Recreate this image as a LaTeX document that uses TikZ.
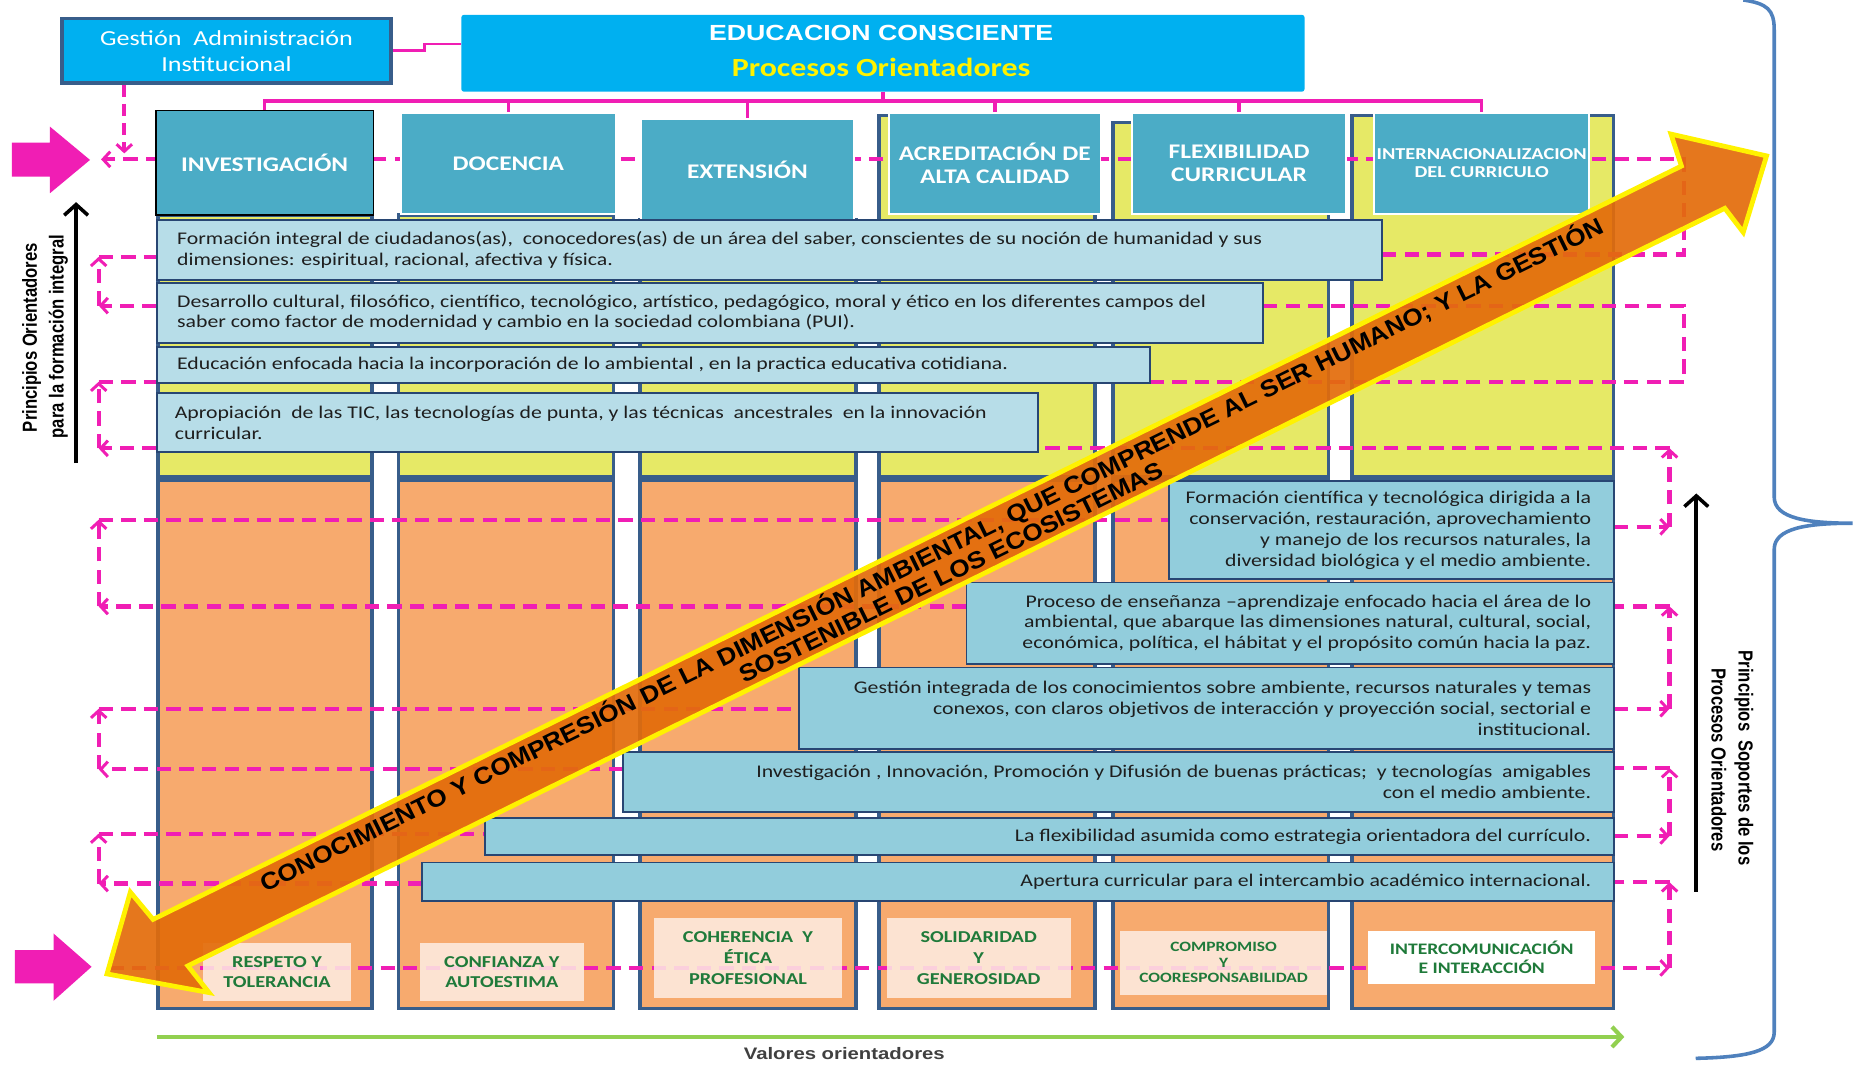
\documentclass[tikz,border=0pt]{standalone}
\usepackage{fontspec}
\setmainfont{Carlito}[FakeStretch=1.22]
\newfontfamily\arialS{Liberation Sans}[FakeStretch=1.22]
\newfontfamily\arialN{Liberation Sans}
\newfontfamily\arialA{Liberation Sans}[FakeStretch=1.1]
\usetikzlibrary{arrows.meta}
\newcommand\lblfont{\arialN\bfseries\fontsize{14}{16}\selectfont}
\definecolor{mag}{RGB}{240,30,180}
\definecolor{titleC}{RGB}{0,176,240}
\definecolor{hdrC}{RGB}{75,172,198}
\definecolor{frameC}{RGB}{56,93,138}
\definecolor{yelC}{RGB}{230,233,102}
\definecolor{orgC}{RGB}{247,170,110}
\definecolor{upC}{RGB}{183,221,232}
\definecolor{loC}{RGB}{146,205,220}
\definecolor{boxline}{RGB}{40,70,115}
\definecolor{txtC}{RGB}{30,30,30}
\definecolor{valC}{RGB}{253,238,228}
\definecolor{valT}{RGB}{31,122,58}
\definecolor{arrOr}{RGB}{227,108,10}
\definecolor{greenC}{RGB}{146,208,80}
\definecolor{braceC}{RGB}{79,129,189}
\definecolor{grayT}{RGB}{64,64,64}
\tikzset{
  hdr/.style={draw=white, line width=1.5pt, fill=hdrC, text=white, font=\fontsize{17.5}{19}\selectfont\bfseries, align=center, inner sep=0pt},
  upb/.style={draw=boxline, line width=1.5pt, fill=upC, inner sep=0pt},
  lob/.style={draw=boxline, line width=1.5pt, fill=loC, inner sep=0pt},
  btxt/.style={font=\fontsize{15}{17.5}\selectfont, text=txtC, inner sep=0pt},
  val/.style={fill=valC, fill opacity=0.85, text opacity=1, text=valT, font=\fontsize{14}{16.5}\selectfont\bfseries, align=center, inner sep=0pt},
  dsh/.style={draw=mag, line width=3.5pt, dash pattern=on 12pt off 7pt},
  tipm/.style={-{Straight Barb[length=6pt,width=13pt,line width=2.5pt]}},
  colY/.style={fill=yelC, draw=frameC, line width=3pt},
  colO/.style={fill=orgC, draw=frameC, line width=3pt},
  brk/.style={draw=mag, line width=3pt},
  blk/.style={draw=black, line width=3.2pt, -{Straight Barb[length=9pt,width=20pt,line width=3pt]}},
}
\begin{document}
\begin{tikzpicture}[x=1pt,y=-1pt]
\useasboundingbox (0,0) rectangle (1565,895.6);
\fill[white] (0,0) rectangle (1565,895.6);

% columns
\foreach \xl/\xr/\yt in {133/313/181, 335/516/181, 538/720/185, 739/921/97, 936/1117/103, 1137/1357/97}{
  \draw[colY] (\xl,\yt) rectangle (\xr,401);
  \draw[colO] (\xl,404) rectangle (\xr,848);
}

% coordinates for dashed connectors
\coordinate (topL) at (85,134);
\coordinate (topR) at (1416,134);
\coordinate (rA) at (1416,214);
\coordinate (l1a) at (83,216);  \coordinate (l1b) at (83,257);
\coordinate (r2a) at (1416,257); \coordinate (r2b) at (1416,321);
\coordinate (l2a) at (83,321);  \coordinate (l2b) at (83,377);
\coordinate (r3a) at (1404,377); \coordinate (r3b) at (1404,443);
\coordinate (l3a) at (83,437);  \coordinate (l3b) at (83,510);
\coordinate (r4a) at (1404,510); \coordinate (r4b) at (1404,596);
\coordinate (l4a) at (83,596);  \coordinate (l4b) at (83,647);
\coordinate (r5a) at (1404,646); \coordinate (r5b) at (1404,703);
\coordinate (l5a) at (83,701);  \coordinate (l5b) at (83,743);
\coordinate (r6a) at (1404,742); \coordinate (r6b) at (1404,814);
\coordinate (botL) at (92,814);

% text boxes (placed first as invisible references)
\path (647,210) node[minimum width=1030pt, minimum height=50pt, inner sep=0pt] (a) {};
\path (597,263) node[minimum width=930pt, minimum height=50pt, inner sep=0pt] (b) {};
\path (549.5,307) node[minimum width=835pt, minimum height=30pt, inner sep=0pt] (c) {};
\path (502.5,355.5) node[minimum width=741pt, minimum height=49pt, inner sep=0pt] (d) {};
\path (1170,446) node[minimum width=374pt, minimum height=82pt, inner sep=0pt] (e) {};
\path (1085,524) node[minimum width=544pt, minimum height=68pt, inner sep=0pt] (f) {};
\path (1014.5,595.5) node[minimum width=685pt, minimum height=68pt, inner sep=0pt] (g) {};
\path (940.5,657.5) node[minimum width=833pt, minimum height=50pt, inner sep=0pt] (h) {};
\path (882.5,703.5) node[minimum width=949pt, minimum height=31pt, inner sep=0pt] (i) {};
\path (856,741.5) node[minimum width=1002pt, minimum height=32pt, inner sep=0pt] (j) {};

% dashed connectors
\draw[dsh, tipm] (a.east |- rA) -- (rA) -- (topR) -- (topL);
\draw[dsh, tipm] (b.west |- l1b) -- (l1b);
\draw[dsh, tipm] (l1b) -- (l1a);
\draw[dsh] (l1a) -- (a.west |- l1a);
\draw[dsh] (b.east |- r2a) -- (r2a) -- (r2b) -- (c.east |- r2b);
\draw[dsh, tipm] (d.west |- l2b) -- (l2b);
\draw[dsh, tipm] (l2b) -- (l2a);
\draw[dsh] (l2a) -- (c.west |- l2a);
\draw[dsh, tipm] (e.east |- r3b) -- (r3b);
\draw[dsh, tipm] (r3b) -- (r3a);
\draw[dsh] (r3a) -- (d.east |- r3a);
\draw[dsh, tipm] (f.west |- l3b) -- (l3b);
\draw[dsh, tipm] (l3b) -- (l3a);
\draw[dsh] (l3a) -- (e.west |- l3a);
\draw[dsh, tipm] (g.east |- r4b) -- (r4b);
\draw[dsh, tipm] (r4b) -- (r4a);
\draw[dsh] (r4a) -- (f.east |- r4a);
\draw[dsh, tipm] (h.west |- l4b) -- (l4b);
\draw[dsh, tipm] (l4b) -- (l4a);
\draw[dsh] (l4a) -- (g.west |- l4a);
\draw[dsh, tipm] (i.east |- r5b) -- (r5b);
\draw[dsh, tipm] (r5b) -- (r5a);
\draw[dsh] (r5a) -- (h.east |- r5a);
\draw[dsh, tipm] (j.west |- l5b) -- (l5b);
\draw[dsh, tipm] (l5b) -- (l5a);
\draw[dsh] (l5a) -- (i.west |- l5a);
\draw[dsh, tipm] (botL) -- (r6b);
\draw[dsh, tipm] (r6b) -- (r6a);
\draw[dsh] (r6a) -- (j.east |- r6a);

% headers
\node[hdr, draw=black, minimum width=183pt, minimum height=88pt] (inv) at (222.5,137) {INVESTIGACIÓN};
\node[hdr, minimum width=181pt, minimum height=85pt] (doc) at (427.5,137.5) {DOCENCIA};
\node[hdr, minimum width=179pt, minimum height=85pt] (ext) at (628.5,142.5) {EXTENSIÓN};
\node[hdr, minimum width=178pt, minimum height=85pt] (acr) at (836.5,137.5) {ACREDITACIÓN DE\\ALTA CALIDAD};
\node[hdr, minimum width=180pt, minimum height=85pt] (flx) at (1042,137.5) {FLEXIBILIDAD\\CURRICULAR};
\node[hdr, minimum width=181pt, minimum height=85pt, font=\fontsize{14}{15}\selectfont\bfseries] (intl) at (1246,137.5) {INTERNACIONALIZACION\\DEL CURRICULO};

% visible text boxes
\draw[upb] (a.north west) rectangle (a.south east);
\draw[upb] (b.north west) rectangle (b.south east);
\draw[upb] (c.north west) rectangle (c.south east);
\draw[upb] (d.north west) rectangle (d.south east);
\draw[lob] (e.north west) rectangle (e.south east);
\draw[lob] (f.north west) rectangle (f.south east);
\draw[lob] (g.north west) rectangle (g.south east);
\draw[lob] (h.north west) rectangle (h.south east);
\draw[lob] (i.north west) rectangle (i.south east);
\draw[lob] (j.north west) rectangle (j.south east);

\node[btxt, anchor=west, align=left] (ta) at ([xshift=17pt]a.west) {Formación integral de ciudadanos(as),\ \ conocedores(as) de un área del saber, conscientes de su noción de humanidad y sus\\dimensiones: espiritual, racional, afectiva y física.};
\node[btxt, anchor=west, align=left] (tb) at ([xshift=17pt]b.west) {Desarrollo cultural, filosófico, científico, tecnológico, artístico, pedagógico, moral y ético en los diferentes campos del\\saber como factor de modernidad y cambio en la sociedad colombiana (PUI).};
\node[btxt, anchor=west, align=left] (tc) at ([xshift=17pt]c.west) {Educación enfocada hacia la incorporación de lo ambiental , en la practica educativa cotidiana.};
\node[btxt, anchor=west, align=left] (td) at ([xshift=15pt]d.west) {Apropiación\ \ de las TIC, las tecnologías de punta, y las técnicas\ \ ancestrales\ \ en la innovación\\curricular.};
\node[btxt, anchor=east, align=right] (te) at ([xshift=-19pt]e.east) {Formación científica y tecnológica dirigida a la\\conservación, restauración, aprovechamiento\\y manejo de los recursos naturales, la\\diversidad biológica y el medio ambiente.};
\node[btxt, anchor=east, align=right] (tf) at ([xshift=-19pt]f.east) {Proceso de enseñanza –aprendizaje enfocado hacia el área de lo\\ambiental, que abarque las dimensiones natural, cultural, social,\\económica, política, el hábitat y el propósito común hacia la paz.};
\node[btxt, anchor=east, align=right] (tg) at ([xshift=-19pt]g.east) {Gestión integrada de los conocimientos sobre ambiente, recursos naturales y temas\\conexos, con claros objetivos de interacción y proyección social, sectorial e\\institucional.};
\node[btxt, anchor=east, align=right] (th) at ([xshift=-19pt]h.east) {Investigación , Innovación, Promoción y Difusión de buenas prácticas;\ \ y tecnologías\ \ amigables\\con el medio ambiente.};
\node[btxt, anchor=east, align=right] (ti) at ([xshift=-19pt]i.east) {La flexibilidad asumida como estrategia orientadora del currículo.};
\node[btxt, anchor=east, align=right] (tj) at ([xshift=-19pt]j.east) {Apertura curricular para el intercambio académico internacional.};

% value boxes
\node[val, minimum width=125pt, minimum height=49pt] (v1) at (233,817.5) {RESPETO Y\\TOLERANCIA};
\node[val, minimum width=138pt, minimum height=49pt] (v2) at (422,817.5) {CONFIANZA Y\\AUTOESTIMA};
\node[val, minimum width=158pt, minimum height=67pt, font=\fontsize{14}{17.5}\selectfont\bfseries] (v3) at (629,805.5) {COHERENCIA\ \ Y\\ÉTICA\\PROFESIONAL};
\node[val, minimum width=155pt, minimum height=67pt, font=\fontsize{14}{17.5}\selectfont\bfseries] (v4) at (823,805.5) {SOLIDARIDAD\\Y\\GENEROSIDAD};
\node[val, minimum width=174pt, minimum height=54pt, font=\fontsize{12}{13}\selectfont\bfseries] (v5) at (1029,809.5) {COMPROMISO\\Y\\COORESPONSABILIDAD};
\node[val, fill=white, fill opacity=1, minimum width=191pt, minimum height=45pt, font=\fontsize{13.5}{15.6}\selectfont\bfseries] (v6) at (1246,805) {INTERCOMUNICACIÓN\\E INTERACCIÓN};

% big double arrow
\begin{scope}[shift={(90,819)}, rotate=26.24]
  \def\L{1556}
  \filldraw[fill=arrOr, fill opacity=0.92, draw=yellow, line width=4pt, line join=miter]
    (0,0) -- (48,-53) -- (55,-24) -- (\L-68,-24) -- (\L-64,-52) -- (\L,0) -- (\L-46,49) -- (\L-51,24) -- (64,24) -- (70,52) -- cycle;
  \node[rotate=26.24, inner sep=0pt, font=\arialA\bfseries\fontsize{20}{22}\selectfont] (ar1) at (778,-9.5) {CONOCIMIENTO Y COMPRESIÓN DE LA DIMENSIÓN AMBIENTAL, QUE COMPRENDE AL SER HUMANO; Y LA GESTIÓN};
  \node[rotate=26.24, inner sep=0pt, font=\arialA\bfseries\fontsize{20}{22}\selectfont] (ar2) at (786,11) {SOSTENIBLE DE LOS ECOSISTEMAS};
\end{scope}

% top boxes
\node[draw=frameC, line width=3pt, fill=titleC, minimum width=277pt, minimum height=54.5pt, text=white, align=center, inner sep=0pt, font=\fontsize{18}{22}\selectfont] (gest) at (190.5,42.7) {Gestión\ \ Administración\\Institucional};
\node[fill=titleC, rounded corners=2pt, minimum width=709pt, minimum height=64.5pt, inner sep=0pt] (title) at (742.5,44.8) {};
\node[text=white, inner sep=0pt, font=\arialS\bfseries\fontsize{18.4}{20}\selectfont] (t1) at (741,28) {EDUCACION CONSCIENTE};
\node[text=yellow, inner sep=0pt, font=\fontsize{22}{24}\selectfont\bfseries] (t2) at (741,57) {Procesos Orientadores};

% connectors from the top boxes
\coordinate (br) at (0,85);
\coordinate (s1) at (357,37);
\draw[brk, line width=2.5pt] (gest.east) -| (s1) -- (title.west |- s1);
\draw[brk] (inv.north) -- (inv.north |- br) -- (intl.north |- br) -- (intl.north);
\draw[brk] (title.south) -- (title.south |- br);
\draw[brk] (doc.north |- br) -- (doc.north);
\draw[brk] (ext.north |- br) -- (ext.north);
\draw[brk] (acr.north |- br) -- (acr.north);
\draw[brk] (flx.north |- br) -- (flx.north);
\coordinate (gd) at (104.5,129);
\draw[dsh, tipm, dash pattern=on 10pt off 6pt] (gest.south -| gd) -- (gd);

% magenta block arrows
\fill[mag] (10,120) -- (42,120) -- (42,106.5) -- (75.7,134.5) -- (42,162.5) -- (42,148.6) -- (10,148.6) -- cycle;
\fill[mag] (12.5,799) -- (45,799) -- (45,785) -- (77,813) -- (45,841.6) -- (45,827) -- (12.5,827) -- cycle;

% side labels and arrows
\coordinate (la0) at (64,389.5); \coordinate (la1) at (64,170);
\draw[blk] (la0) -- (la1);
\node (ll1) at (26.6,284) {\scalebox{1.22}[1]{\rotatebox{90}{\lblfont Principios Orientadores}}};
\node (ll2) at (49,283) {\scalebox{1.22}[1]{\rotatebox{90}{\lblfont para la formación integral}}};
\coordinate (ra0) at (1426.5,750); \coordinate (ra1) at (1426.5,415);
\draw[blk] (ra0) -- (ra1);
\node (rl1) at (1466.4,637.5) {\scalebox{1.22}[1]{\rotatebox{-90}{\lblfont Principios\ \ Soportes de los}}};
\node (rl2) at (1445.4,639) {\scalebox{1.22}[1]{\rotatebox{-90}{\lblfont Procesos Orientadores}}};

% brace
\draw[braceC, line width=3pt] (1466,0) .. controls (1486,3) and (1492,8) .. (1492,25) -- (1492,418)
  .. controls (1492,436) and (1520,440) .. (1558,440)
  .. controls (1520,440) and (1492,444) .. (1492,462) -- (1492,868)
  .. controls (1492,884) and (1470,889) .. (1426,890);

% green arrow and label
\coordinate (g0) at (132,872); \coordinate (g1) at (1366,872);
\draw[greenC, line width=4pt, -{Straight Barb[length=8pt,width=17pt,line width=3.5pt]}] (g0) -- (g1);
\node[text=grayT, inner sep=0pt, font=\arialS\bfseries\fontsize{14}{16}\selectfont] (vo) at (710,886) {Valores orientadores};
\end{tikzpicture}
\end{document}
